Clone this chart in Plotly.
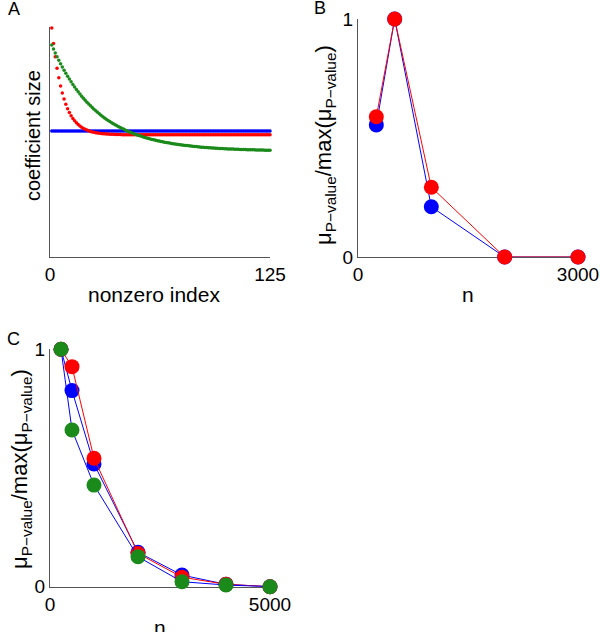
import plotly.graph_objects as go

# ---------------- Panel A data (coefficient size vs nonzero index) ----------------
index_a = list(range(1, 126))

blue_a = [
    1.0, 1.0, 1.0, 1.0, 1.0, 1.0, 1.0, 1.0, 1.0, 1.0, 1.0, 1.0, 1.0, 1.0, 1.0, 1.0, 1.0, 1.0, 1.0, 1.0,
    1.0, 1.0, 1.0, 1.0, 1.0, 1.0, 1.0, 1.0, 1.0, 1.0, 1.0, 1.0, 1.0, 1.0, 1.0, 1.0, 1.0, 1.0, 1.0, 1.0,
    1.0, 1.0, 1.0, 1.0, 1.0, 1.0, 1.0, 1.0, 1.0, 1.0, 1.0, 1.0, 1.0, 1.0, 1.0, 1.0, 1.0, 1.0, 1.0, 1.0,
    1.0, 1.0, 1.0, 1.0, 1.0, 1.0, 1.0, 1.0, 1.0, 1.0, 1.0, 1.0, 1.0, 1.0, 1.0, 1.0, 1.0, 1.0, 1.0, 1.0,
    1.0, 1.0, 1.0, 1.0, 1.0, 1.0, 1.0, 1.0, 1.0, 1.0, 1.0, 1.0, 1.0, 1.0, 1.0, 1.0, 1.0, 1.0, 1.0, 1.0,
    1.0, 1.0, 1.0, 1.0, 1.0, 1.0, 1.0, 1.0, 1.0, 1.0, 1.0, 1.0, 1.0, 1.0, 1.0, 1.0, 1.0, 1.0, 1.0, 1.0,
    1.0, 1.0, 1.0, 1.0, 1.0,
]

red_a = [
    1.817, 1.694, 1.589, 1.499, 1.423, 1.357, 1.301, 1.253, 1.212, 1.177,
    1.147, 1.121, 1.099, 1.081, 1.065, 1.051, 1.039, 1.029, 1.020, 1.013,
    1.007, 1.002, 0.997, 0.993, 0.990, 0.987, 0.984, 0.982, 0.981, 0.979,
    0.978, 0.977, 0.976, 0.975, 0.974, 0.974, 0.973, 0.973, 0.972, 0.972,
    0.971, 0.971, 0.971, 0.971, 0.971, 0.971, 0.971, 0.971, 0.971, 0.971,
    0.971, 0.971, 0.971, 0.971, 0.971, 0.971, 0.971, 0.971, 0.971, 0.971,
    0.970, 0.970, 0.970, 0.970, 0.970, 0.970, 0.970, 0.970, 0.970, 0.970,
    0.970, 0.970, 0.970, 0.970, 0.970, 0.970, 0.970, 0.970, 0.970, 0.970,
    0.970, 0.970, 0.970, 0.970, 0.970, 0.970, 0.970, 0.970, 0.970, 0.970,
    0.970, 0.970, 0.970, 0.970, 0.970, 0.970, 0.970, 0.970, 0.970, 0.970,
    0.970, 0.970, 0.970, 0.970, 0.970, 0.970, 0.970, 0.970, 0.970, 0.970,
    0.970, 0.970, 0.970, 0.970, 0.970, 0.970, 0.970, 0.970, 0.970, 0.970,
    0.970, 0.970, 0.970, 0.970, 0.970,
]

green_a = [
    1.682, 1.650, 1.619, 1.590, 1.561, 1.534, 1.508, 1.482, 1.458, 1.434,
    1.412, 1.390, 1.369, 1.349, 1.330, 1.311, 1.293, 1.276, 1.260, 1.244,
    1.229, 1.214, 1.200, 1.186, 1.173, 1.160, 1.148, 1.137, 1.125, 1.114,
    1.104, 1.094, 1.084, 1.075, 1.066, 1.058, 1.049, 1.042, 1.034, 1.027,
    1.020, 1.013, 1.006, 1.000, 0.994, 0.988, 0.983, 0.977, 0.972, 0.967,
    0.962, 0.958, 0.953, 0.949, 0.945, 0.941, 0.937, 0.933, 0.930, 0.927,
    0.923, 0.920, 0.917, 0.914, 0.911, 0.909, 0.906, 0.904, 0.901, 0.899,
    0.897, 0.895, 0.893, 0.891, 0.889, 0.887, 0.885, 0.884, 0.882, 0.880,
    0.879, 0.877, 0.876, 0.875, 0.873, 0.872, 0.871, 0.870, 0.869, 0.868,
    0.867, 0.866, 0.865, 0.864, 0.863, 0.862, 0.861, 0.861, 0.860, 0.859,
    0.858, 0.858, 0.857, 0.857, 0.856, 0.855, 0.855, 0.854, 0.854, 0.853,
    0.853, 0.852, 0.852, 0.851, 0.851, 0.851, 0.850, 0.850, 0.849, 0.849,
    0.849, 0.848, 0.848, 0.848, 0.848,
]

# ---------------- Panel B data ----------------
n_b = [250, 500, 1000, 2000, 3000]
blue_b = [0.555, 1.0, 0.211, 0.0, 0.0]
red_b = [0.589, 1.0, 0.293, 0.0, 0.0]

# ---------------- Panel C data ----------------
n_c = [250, 500, 1000, 2000, 3000, 4000, 5000]
blue_c = [1.0, 0.826, 0.517, 0.145, 0.049, 0.010, 0.0]
red_c = [1.0, 0.927, 0.541, 0.140, 0.040, 0.010, 0.0]
green_c = [1.0, 0.660, 0.428, 0.126, 0.021, 0.007, 0.0]

# ---------------- tick labels ----------------
ticks_a_x = [0, 125]
ticks_b_x = [0, 3000]
ticks_c_x = [0, 5000]
ticks_y = [0, 1]

BLUE = "#0000ff"
RED = "#ff0000"
GREEN = "#1a8a1a"
AXIS = "#555555"
FONT = "Liberation Sans, Arial, Helvetica, sans-serif"

W, H = 600, 632


def px_x(p):
    return p / W


def px_y(p):
    return 1 - p / H


fig = go.Figure()

# Panel A
fig.add_trace(go.Scatter(x=index_a, y=blue_a, mode="markers", marker=dict(color=BLUE, size=3.5),
                         xaxis="x", yaxis="y", cliponaxis=False, showlegend=False))
fig.add_trace(go.Scatter(x=index_a, y=red_a, mode="markers", marker=dict(color=RED, size=3.5),
                         xaxis="x", yaxis="y", cliponaxis=False, showlegend=False))
fig.add_trace(go.Scatter(x=index_a, y=green_a, mode="markers", marker=dict(color=GREEN, size=3.5),
                         xaxis="x", yaxis="y", cliponaxis=False, showlegend=False))

# Panel B
fig.add_trace(go.Scatter(x=n_b, y=blue_b, mode="lines+markers", line=dict(color=BLUE, width=1),
                         marker=dict(color=BLUE, size=15), xaxis="x2", yaxis="y2",
                         cliponaxis=False, showlegend=False))
fig.add_trace(go.Scatter(x=n_b, y=red_b, mode="lines+markers", line=dict(color=RED, width=1),
                         marker=dict(color=RED, size=15), xaxis="x2", yaxis="y2",
                         cliponaxis=False, showlegend=False))

# Panel C
fig.add_trace(go.Scatter(x=n_c, y=blue_c, mode="lines+markers", line=dict(color=BLUE, width=1),
                         marker=dict(color=BLUE, size=15), xaxis="x3", yaxis="y3",
                         cliponaxis=False, showlegend=False))
fig.add_trace(go.Scatter(x=n_c, y=red_c, mode="lines+markers", line=dict(color=RED, width=1),
                         marker=dict(color=RED, size=15), xaxis="x3", yaxis="y3",
                         cliponaxis=False, showlegend=False))
fig.add_trace(go.Scatter(x=n_c, y=green_c, mode="lines+markers", line=dict(color=BLUE, width=1),
                         marker=dict(color=GREEN, size=15), xaxis="x3", yaxis="y3",
                         cliponaxis=False, showlegend=False))

common = dict(showgrid=False, zeroline=False, showline=True, linecolor=AXIS, linewidth=1,
              ticks="inside", ticklen=3, tickcolor=AXIS, layer="below traces", automargin=False,
              tickfont=dict(family=FONT, size=19, color="black"))

fig.update_layout(
    width=W, height=H,
    margin=dict(l=0, r=0, t=0, b=0, autoexpand=False),
    paper_bgcolor="white", plot_bgcolor="white",
    font=dict(family=FONT, color="black"),
    hovermode=False,
    xaxis=dict(domain=[px_x(50), px_x(270)], range=[0, 125], tickvals=ticks_a_x,
               anchor="y", **common),
    yaxis=dict(domain=[px_y(257), px_y(27)], range=[0, 230 / 126], anchor="x", **common),
    xaxis2=dict(domain=[px_x(358), px_x(578)], range=[0, 3000], tickvals=ticks_b_x,
                anchor="y2", **common),
    yaxis2=dict(domain=[px_y(257), px_y(19)], range=[0, 1], tickvals=ticks_y,
                anchor="x2", **common),
    xaxis3=dict(domain=[px_x(50), px_x(270)], range=[0, 5000], tickvals=ticks_c_x,
                anchor="y3", **common),
    yaxis3=dict(domain=[px_y(586.7), px_y(349.3)], range=[0, 1], tickvals=ticks_y,
                anchor="x3", **common),
)
fig.update_layout(yaxis=dict(showticklabels=False, ticks="", tickvals=[]))

ylab = "\u03bc<sub>P\u2212value</sub>/max(\u03bc<sub>P\u2212value</sub>)"

annos = [
    ("A", 13.5, 9, 18, 0),
    ("B", 320, 8, 18, 0),
    ("C", 13.5, 338.5, 18, 0),
    ("nonzero index", 154, 294, 21, 0),
    ("n", 468, 294, 21, 0),
    ("n", 160, 627, 21, 0),
    ("coefficient size", 33, 136, 20, -90),
    (ylab, 325, 145, 22, -90),
    (ylab, 21, 469, 22, -90),
]
for text, x, y, size, ang in annos:
    fig.add_annotation(text=text, x=px_x(x), y=px_y(y), xref="paper", yref="paper",
                       xanchor="center", yanchor="middle", showarrow=False, textangle=ang,
                       font=dict(family=FONT, size=size, color="black"))

fig.write_html("out.html", config={"displayModeBar": False, "staticPlot": True},
               post_script="document.body.style.margin='0';document.body.style.overflow='hidden';")
